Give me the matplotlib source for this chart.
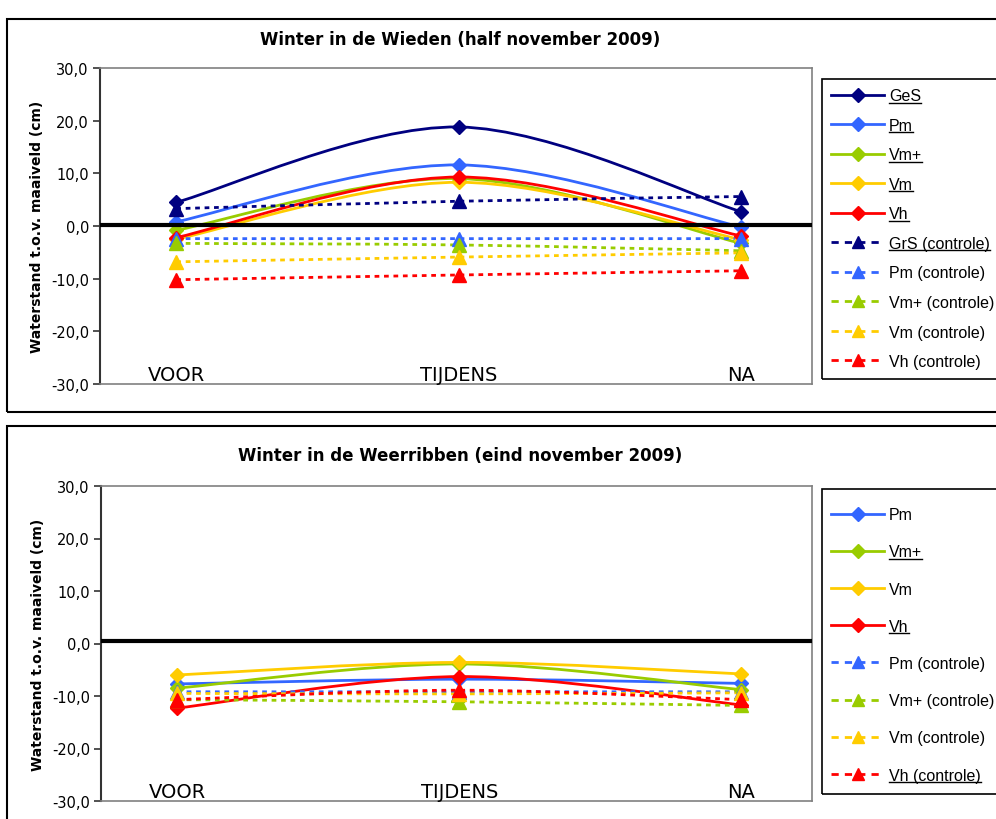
import numpy as np
import matplotlib
matplotlib.use("Agg")
import matplotlib.pyplot as plt
from matplotlib.path import Path
from matplotlib.patches import PathPatch, Rectangle
from matplotlib.lines import Line2D

plt.rcParams['font.family'] = ['DejaVu Sans']

categories = ['VOOR', 'TIJDENS', 'NA']

# Winter in de Wieden
wieden_names = ['GeS', 'Pm', 'Vm+', 'Vm', 'Vh',
                'GrS (controle)', 'Pm (controle)', 'Vm+ (controle)',
                'Vm (controle)', 'Vh (controle)']
wieden_underlined = ['GeS', 'Pm', 'Vm+', 'Vm', 'Vh', 'GrS (controle)']
wieden_values = [
    [4.5, 18.8, 2.7],
    [0.8, 11.6, -0.2],
    [-0.8, 9.0, -3.3],
    [-2.5, 8.3, -2.6],
    [-2.2, 9.3, -1.9],
    [3.3, 4.7, 5.6],
    [-2.4, -2.4, -2.4],
    [-3.3, -3.6, -4.7],
    [-6.8, -5.9, -5.1],
    [-10.2, -9.3, -8.5],
]

# Winter in de Weerribben
weerribben_names = ['Pm', 'Vm+', 'Vm', 'Vh',
                    'Pm (controle)', 'Vm+ (controle)',
                    'Vm (controle)', 'Vh (controle)']
weerribben_underlined = ['Vm+', 'Vh', 'Vh (controle)']
weerribben_values = [
    [-7.7, -6.8, -7.6],
    [-8.5, -3.9, -8.8],
    [-6.0, -3.6, -5.8],
    [-12.3, -6.3, -11.7],
    [-9.2, -9.2, -9.2],
    [-10.7, -11.1, -11.8],
    [-9.5, -9.6, -9.4],
    [-10.7, -8.9, -10.7],
]

colors = {'GeS': '#000080', 'GrS': '#000080', 'Pm': '#3366FF',
          'Vm+': '#99CC00', 'Vm': '#FFCC00', 'Vh': '#FF0000'}

W, H = 996, 820
fig = plt.figure(figsize=(W / 100, H / 100), dpi=100)


def smooth_path(x, y):
    # Catmull-Rom style bezier segments through the points
    pts = np.column_stack([x, y]).astype(float)
    n = len(pts)
    verts = [pts[0]]
    codes = [Path.MOVETO]
    for i in range(n - 1):
        p0 = pts[max(i - 1, 0)]
        p1 = pts[i]
        p2 = pts[i + 1]
        p3 = pts[min(i + 2, n - 1)]
        c1 = p1 + (p2 - p0) / 6.0
        c2 = p2 - (p3 - p1) / 6.0
        verts += [c1, c2, p2]
        codes += [Path.CURVE4] * 3
    return Path(verts, codes)


dotted = (0, (1.7, 1.7))
lw = 2.0


def draw_panel(rect_px, names, values, underlined, title, title_y,
               legend_box, legend_top, spacing, zero):
    x0, y0, x1, y1 = rect_px
    ax = fig.add_axes([x0 / W, 1 - y1 / H, (x1 - x0) / W, (y1 - y0) / H])
    xs = np.arange(len(categories))
    handles = []
    for name, vals in zip(names, values):
        key = name.split(' ')[0]
        c = colors[key]
        ctrl = 'controle' in name
        ls = dotted if ctrl else '-'
        patch = PathPatch(smooth_path(xs, vals), facecolor='none', edgecolor=c,
                          lw=lw, linestyle=ls, capstyle='butt', zorder=3)
        ax.add_patch(patch)
        mk = '^' if ctrl else 'D'
        ms = 10 if ctrl else 7.5
        ax.plot(xs, vals, linestyle='none', marker=mk, ms=ms, color=c,
                markeredgecolor=c, zorder=4)
        handles.append(Line2D([], [], color=c, lw=lw,
                              linestyle=(0, (2.6, 2.2)) if ctrl else '-',
                              marker=mk, ms=ms * 0.9, markeredgecolor=c))
    ax.axhline(zero, color='black', lw=3, zorder=5)
    ax.set_xlim(-0.27, 2.25)
    ax.set_ylim(-30, 30)
    ticks = np.arange(-30, 31, 10)
    ax.set_yticks(ticks)
    ax.set_yticklabels([('%.1f' % v).replace('.', ',') for v in ticks])
    ax.set_xticks([])
    ax.tick_params(axis='y', direction='out', length=5, width=1.2,
                   labelsize=10.5, pad=3, color='#333333')
    for s in ['top', 'right', 'bottom']:
        ax.spines[s].set_color('#808080')
        ax.spines[s].set_linewidth(1.2)
    ax.spines['left'].set_color('#333333')
    ax.spines['left'].set_linewidth(1.5)
    for xi, lab in zip(xs, categories):
        ax.text(xi, -28.2, lab, ha='center', va='center', fontsize=14)
    ax.set_ylabel('Waterstand t.o.v. maaiveld (cm)', fontsize=10,
                  fontweight='bold', labelpad=5)
    fig.text(x0 / W + (x1 - x0) / W / 2 + 0.004, 1 - title_y / H, title,
             ha='center', va='center', fontsize=12, fontweight='bold')

    # legend frame drawn separately so the entries can sit lower in the box
    bx, btop, bbot = legend_box
    fig.patches.append(Rectangle((bx / W, 1 - bbot / H), 0.5, (bbot - btop) / H,
                                 transform=fig.transFigure, fill=False,
                                 edgecolor='black', lw=1.2))
    leg = fig.legend(handles, names, loc='upper left',
                     bbox_to_anchor=(bx / W, 1 - legend_top / H), frameon=False,
                     prop={'family': 'Liberation Sans', 'size': 11.5},
                     handlelength=3.3, handletextpad=0.33, labelspacing=spacing,
                     borderpad=0.58, borderaxespad=0)
    return ax, leg, underlined


panels = []
panels.append(draw_panel((100, 69, 812, 385), wieden_names, wieden_values,
                         wieden_underlined, 'Winter in de Wieden (half november 2009)',
                         40, (822, 80, 380), 80, 0.91, 0.2))
panels.append(draw_panel((101, 487, 812, 802), weerribben_names, weerribben_values,
                         weerribben_underlined, 'Winter in de Weerribben (eind november 2009)',
                         456, (822, 490, 795), 499, 1.39, 0.4))

# outer chart frames
fig.patches.append(Rectangle((7 / W, 1 - 413 / H), 1.2, (413 - 20) / H,
                             transform=fig.transFigure, fill=False,
                             edgecolor='black', lw=1.5))
fig.patches.append(Rectangle((7 / W, -0.2), 1.2, 0.2 + (820 - 427) / H,
                             transform=fig.transFigure, fill=False,
                             edgecolor='black', lw=1.5))

# underline selected legend labels
fig.canvas.draw()
renderer = fig.canvas.get_renderer()
for ax, leg, underlined in panels:
    for txt in leg.get_texts():
        if txt.get_text() in underlined:
            bb = txt.get_window_extent(renderer)
            ypix = np.floor(bb.y0) + 1.5
            fig.lines.append(Line2D([bb.x0 / W, bb.x1 / W], [ypix / H, ypix / H],
                                    transform=fig.transFigure, color='black', lw=1.0))

fig.savefig('out.png', dpi=100)
